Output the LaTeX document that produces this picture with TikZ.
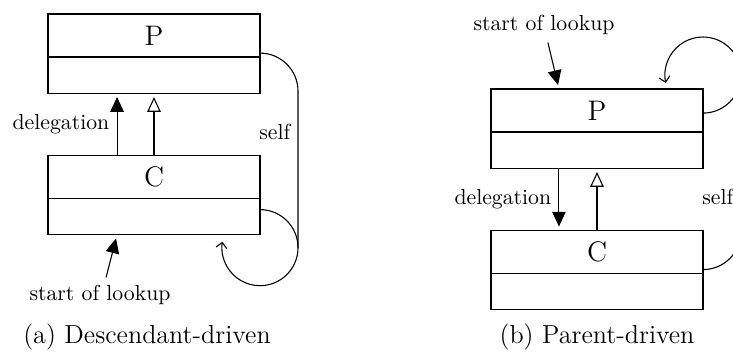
\documentclass[tikz,border=0pt]{standalone}
\usetikzlibrary{positioning,arrows.meta}

\begin{document}
\begin{tikzpicture}[x=0.46pt, y=0.46pt, line width=0.5pt,
	header/.style={draw, minimum width=97.5pt, minimum height=19.8pt, inner sep=0pt, outer sep=0pt, font=\fontsize{13}{15}\selectfont},
	body/.style={draw, minimum width=97.5pt, minimum height=16.6pt, inner sep=0pt, outer sep=0pt},
	lbl/.style={font=\normalsize},
	subcap/.style={font=\large},
	deleg/.style={-{Triangle[length=6.8pt,width=6.2pt]}, shorten >=1.8pt},
	inherit/.style={-{Triangle[open,length=6.8pt,width=6.2pt]}, shorten >=1.8pt},
	selfarr/.style={-{Straight Barb[length=2.5pt,width=5pt]}}]
	\useasboundingbox (0,0) rectangle (733,356);
	\clip (0,0) rectangle (733,356);

	% descendant-driven
	\node[header] (pa) at (154,320.5) {P};
	\node[body, below=0pt of pa] (pb) {};
	\node[header] (ca) at (154,179) {C};
	\node[body, below=0pt of ca] (cb) {};
	\draw[deleg] ([xshift=-17pt]ca.north) -- ([xshift=-17pt]pb.south) node[midway, left, lbl] {delegation};
	\draw[inherit] (ca.north) -- (pb.south);
	\coordinate (loopa) at ([yshift=-6pt]cb.south east);
	\draw[selfarr] ([yshift=17.5pt]loopa) arc[start angle=90, end angle=-189, radius=17.5pt];
	\draw ([yshift=1.8pt]pa.south east) arc[start angle=90, end angle=0, radius=17.5pt] -- ([xshift=17.5pt]loopa) node[pos=0.26, left, lbl] {self};
	\node[lbl] (starta) at (100,61) {start of lookup};
	\draw[deleg] ([xshift=2.8pt]starta.north) -- ([xshift=-17pt]cb.south);
	\node[subcap] (capa) at (147,19) {(a)\ Descendant-driven};

	% parent-driven
	\node[header] (pa2) at (597,245.5) {P};
	\node[body, below=0pt of pa2] (pb2) {};
	\node[header] (ca2) at (597,104) {C};
	\node[body, below=0pt of ca2] (cb2) {};
	\draw[deleg] ([xshift=-17.5pt]pb2.south) -- ([xshift=-17.5pt]ca2.north) node[midway, left, lbl] {delegation};
	\draw[inherit] (ca2.north) -- (pb2.south);
	\coordinate (loopb) at ([yshift=6.4pt]pa2.north east);
	\draw[selfarr] ([yshift=-17.5pt]loopb) arc[start angle=270, end angle=552, radius=17.5pt];
	\draw ([yshift=1.8pt]ca2.south east) arc[start angle=270, end angle=360, radius=17.5pt] -- ([xshift=17.5pt]loopb) node[pos=0.22, left, lbl] {self};
	\node[lbl] (startb) at (544,331) {start of lookup};
	\draw[deleg] ([xshift=1.8pt]startb.south) -- ([xshift=-17.5pt]pa2.north);
	\node[subcap] (capb) at (597,19) {(b)\ Parent-driven};
\end{tikzpicture}
\end{document}
